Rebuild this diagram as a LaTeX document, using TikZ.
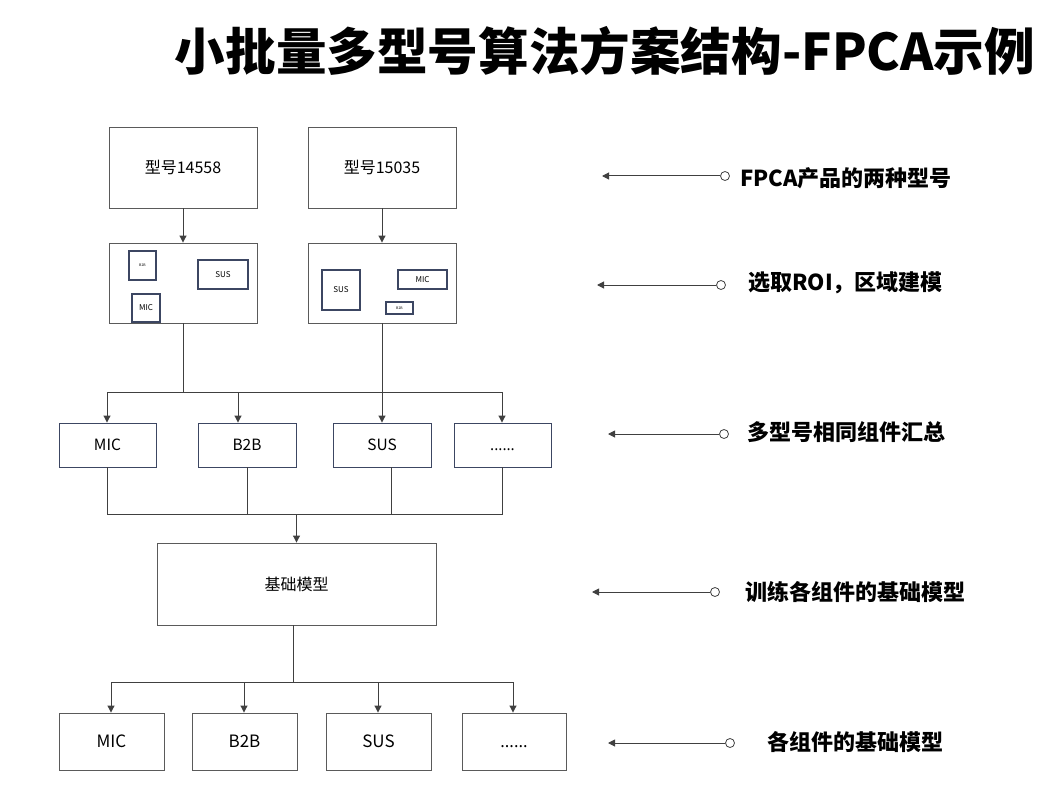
\documentclass[tikz,border=0pt]{standalone}
\usepackage{fontspec}
\setmainfont{Noto Sans CJK SC}
\newfontfamily\dotsfont{Open Sans}
\usetikzlibrary{positioning, arrows.meta, calc}
\definecolor{boxgray}{HTML}{5A5A5A}
\definecolor{boxblue}{HTML}{3C4662}
\definecolor{linegray}{HTML}{404040}
\newcommand{\moredots}{\vphantom{MIC}{\dotsfont......}}

\begin{document}
\begin{tikzpicture}[
x=1pt, y=-1pt,
    box/.style={rectangle, draw=boxgray, line width=0.9pt, inner sep=0pt, font=\fontsize{16}{19}\selectfont},
    part/.style={box, draw=boxblue, font=\fontsize{15.5}{18}\selectfont},
    roi/.style={rectangle, draw=boxblue, line width=1.3pt, inner sep=0pt},
    note/.style={anchor=west, inner sep=0pt, font=\fontsize{22}{24}\selectfont\bfseries},
    pin/.style={circle, draw=linegray, fill=white, line width=0.8pt, minimum size=9pt, inner sep=0pt},
    line/.style={draw=linegray, line width=1pt},
    arr/.style={line, -{Triangle[length=7pt, width=7pt]}}
]
    \useasboundingbox (0,0) rectangle (1062,805);

    % Title
    \node[font=\fontsize{50.6}{54}\selectfont\bfseries] (title) at (605,51) {小批量多型号算法方案结构-FPCA示例};

    % Models
    \node[box, minimum width=148pt, minimum height=81pt] (m1) at (183,167.5) {型号14558};
    \node[box, minimum width=148pt, minimum height=81pt] (m2) at (382,167.5) {型号15035};

    % ROI boxes
    \node[box, minimum width=148pt, minimum height=80pt] (r1) at (183,283) {};
    \node[box, minimum width=148pt, minimum height=80pt] (r2) at (382,283) {};
    \node[roi, minimum width=27pt, minimum height=29pt, font=\fontsize{3.5}{4}\selectfont] (r1b2b) at (142.5,265.5) {B2B};
    \node[roi, minimum width=50pt, minimum height=29pt, font=\fontsize{8}{9}\selectfont] (r1sus) at (223,274.5) {SUS};
    \node[roi, minimum width=28pt, minimum height=28pt, font=\fontsize{8}{9}\selectfont] (r1mic) at (146,308) {MIC};
    \node[roi, minimum width=38pt, minimum height=40pt, font=\fontsize{8}{9}\selectfont] (r2sus) at (341,290) {SUS};
    \node[roi, minimum width=49pt, minimum height=19pt, font=\fontsize{8}{9}\selectfont] (r2mic) at (422.5,279.5) {MIC};
    \node[roi, minimum width=27pt, minimum height=12pt, font=\fontsize{3.5}{4}\selectfont] (r2b2b) at (399.5,308) {B2B};

    % Grouped parts
    \node[part, minimum width=97pt, minimum height=44pt] (c1) at (107.5,445) {MIC};
    \node[part, minimum width=98pt, minimum height=44pt] (c2) at (247,445) {B2B};
    \node[part, minimum width=98pt, minimum height=44pt] (c3) at (382,445) {SUS};
    \node[part, minimum width=97pt, minimum height=44pt] (c4) at (502.5,445) {\moredots};

    % Base model
    \node[box, minimum width=279pt, minimum height=82pt] (base) at (296.5,584) {基础模型};

    % Part models
    \node[box, minimum width=105pt, minimum height=57pt, font=\fontsize{17}{20}\selectfont] (d1) at (111.5,741.5) {MIC};
    \node[box, minimum width=105pt, minimum height=57pt, font=\fontsize{17}{20}\selectfont] (d2) at (244.5,741.5) {B2B};
    \node[box, minimum width=105pt, minimum height=57pt, font=\fontsize{17}{20}\selectfont] (d3) at (378.5,741.5) {SUS};
    \node[box, minimum width=104pt, minimum height=57pt, font=\fontsize{17}{20}\selectfont] (d4) at (514,741.5) {\moredots};

    % Junctions
    \coordinate (s1) at (107,392);
    \coordinate (s2) at (238,392);
    \coordinate (s4) at (502,392);
    \coordinate (j1) at (107.5,514);
    \coordinate (j2) at (247,514);
    \coordinate (j3) at (391,514);
    \coordinate (j4) at (502.5,514);
    \coordinate (jm) at (296.5,514);
    \coordinate (k1) at (111,682);
    \coordinate (k2) at (244,682);
    \coordinate (k3) at (378,682);
    \coordinate (k4) at (513,682);
    \coordinate (km) at (293,682);

    % Connect models and ROI
    \draw[arr] (m1) -- (r1);
    \draw[arr] (m2) -- (r2);

    % Split into parts
    \draw[line] (r1.south) -- (r1.south |- s1);
    \draw[line] (s1) -- (s4);
    \draw[arr] (s1) -- (s1 |- c1.north);
    \draw[arr] (s2) -- (s2 |- c2.north);
    \draw[arr] (r2.south) -- (c3.north);
    \draw[arr] (s4) -- (s4 |- c4.north);

    % Merge into base model
    \draw[line] (c1.south) -- (j1) -- (j4) -- (c4.south);
    \draw[line] (j2) -- (j2 |- c2.south);
    \draw[line] (j3) -- (j3 |- c3.south);
    \draw[arr] (jm) -- (base.north);

    % Split into part models
    \draw[line] (km |- base.south) -- (km);
    \draw[line] (k1) -- (k4);
    \draw[arr] (k1) -- (k1 |- d1.north);
    \draw[arr] (k2) -- (k2 |- d2.north);
    \draw[arr] (k3) -- (k3 |- d3.north);
    \draw[arr] (k4) -- (k4 |- d4.north);

    % Notes
    \node[pin] (p1) at (725,176) {};
    \node[pin] (p2) at (721,285) {};
    \node[pin] (p3) at (724,434) {};
    \node[pin] (p4) at (715,592) {};
    \node[pin] (p5) at (730,743) {};
    \coordinate (t1) at (602,176);
    \coordinate (t2) at (597,285);
    \coordinate (t3) at (608,434);
    \coordinate (t4) at (592,592);
    \coordinate (t5) at (608,743);
    \draw[arr] (p1) -- (t1);
    \draw[arr] (p2) -- (t2);
    \draw[arr] (p3) -- (t3);
    \draw[arr] (p4) -- (t4);
    \draw[arr] (p5) -- (t5);
    \node[note] (n1) at (740,178) {FPCA产品的两种型号};
    \node[note] (n2) at (748,283) {选取ROI，区域建模};
    \node[note] (n3) at (747,432) {多型号相同组件汇总};
    \node[note] (n4) at (745,592) {训练各组件的基础模型};
    \node[note] (n5) at (767,742) {各组件的基础模型};

\end{tikzpicture}
\end{document}
